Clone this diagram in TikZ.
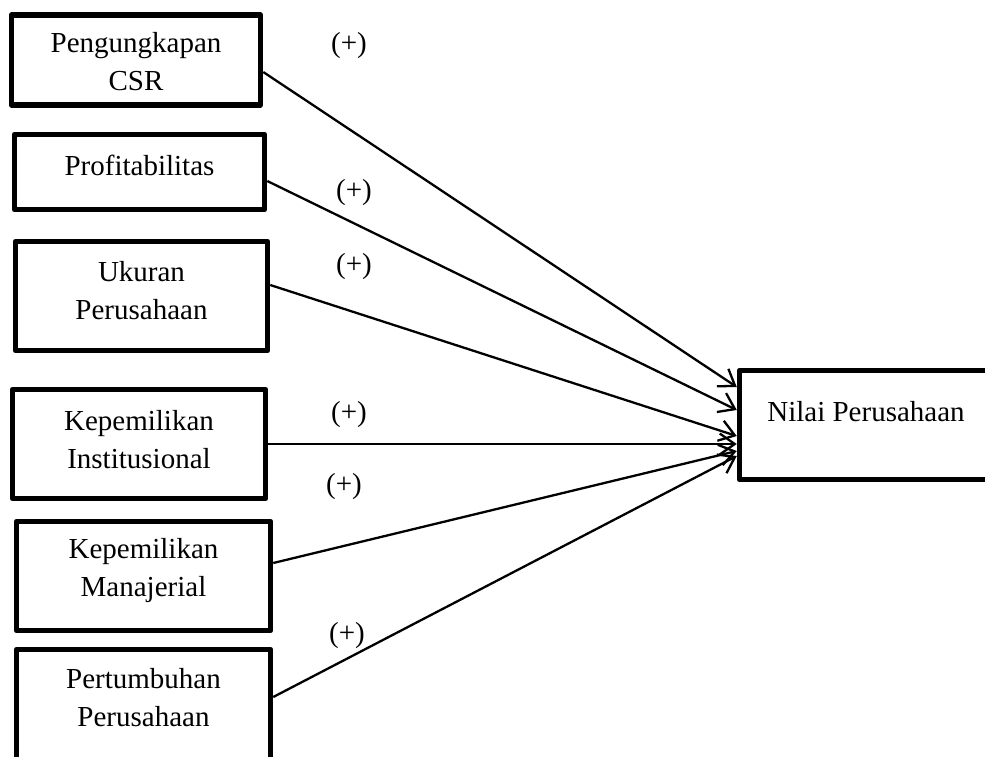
\documentclass[tikz,border=0pt]{standalone}
\usepackage{fontspec}
\setmainfont{Liberation Serif}
\usetikzlibrary{arrows.meta}

\tikzset{
  varbox/.style={draw, line width=5.5pt, line join=round, inner sep=0pt},
  link/.style={line width=2.3pt, -{Straight Barb[length=15pt,width=21pt,line width=2.3pt]}},
  sign/.style={inner sep=0pt}
}

\begin{document}
\begin{tikzpicture}[x=1pt,y=-1pt,font=\fontsize{29}{38}\selectfont]
  \useasboundingbox (0,0) rectangle (985,756);
  \clip (0,0) rectangle (985,756);
  % independent variables
  \foreach \nm/\cx/\cy/\w/\h/\dy/\txt in {
      csr/136/60/249/90/-2/{Pengungkapan\\CSR},
      prof/139.5/172/250/75/7/{Profitabilitas},
      ukuran/141.5/296/252/109/5/{Ukuran\\Perusahaan},
      inst/139/444/253/109/4/{Kepemilikan\\Institusional},
      manaj/143.5/576/254/109/5/{Kepemilikan\\Manajerial},
      tumbuh/143.5/707/254/115/9/{Pertumbuhan\\Perusahaan}}
    \node[varbox, minimum width=\w pt, minimum height=\h pt,
          label={[align=center,yshift=\dy pt]center:\txt}] (\nm) at (\cx,\cy) {};
  % dependent variable
  \node[varbox, minimum width=253pt, minimum height=109pt,
        label={[yshift=13pt]center:Nilai Perusahaan}] (nilai) at (866,425) {};
  % paths
  \foreach \nm/\s/\e in {csr/-12/38, prof/-9/15, ukuran/11/-11,
                         inst/0/-19, manaj/13/-26, tumbuh/10/-31}
    \draw[link] ([yshift=\s pt]\nm.east) -- ([yshift=\e pt]nilai.west);
  \foreach \i/\x/\y in {1/349/46, 2/354/193, 3/354/267,
                        4/349/415, 5/344/487, 6/347/636}
    \node[sign] (plus\i) at (\x,\y) {(+)};
\end{tikzpicture}
\end{document}
